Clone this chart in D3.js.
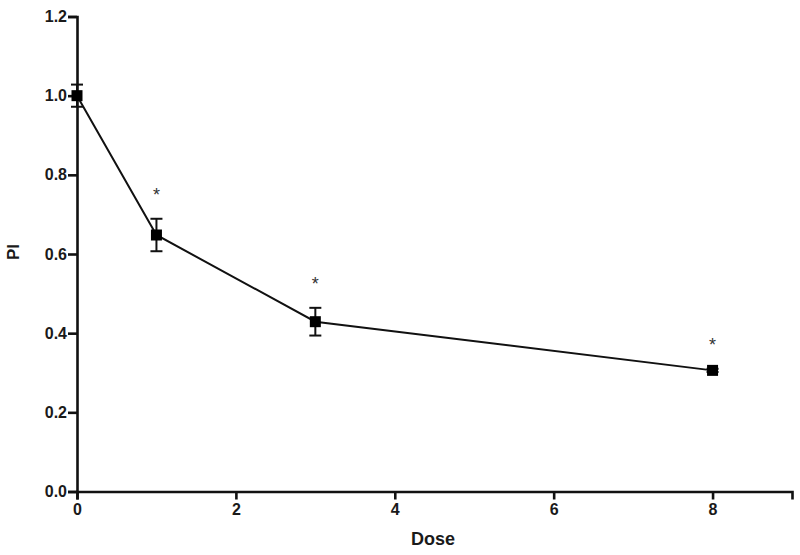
<!DOCTYPE html>
<html>
<head>
<meta charset="utf-8">
<script src="https://cdn.jsdelivr.net/npm/d3@7.9.0/dist/d3.min.js"></script>
<style>
  html, body { margin: 0; padding: 0; background: #fff; }
  svg { display: block; font-family: "Liberation Sans", Arial, sans-serif; }
</style>
</head>
<body>
<div id="chart"></div>
<script>
// dose / PI values
const doses = [0, 1, 3, 8];
const piMean = [1.0, 0.648, 0.429, 0.306];
const piErr = [0.028, 0.041, 0.035, 0.004];
const significant = [false, true, true, true];
const xTicks = [0, 2, 4, 6, 8];
const yTicks = [0, 0.2, 0.4, 0.6, 0.8, 1.0, 1.2];

const width = 800;
const height = 555;
const margin = { top: 16.5, right: 8, bottom: 63.5, left: 77 };

const points = doses.map((d, i) => ({
  dose: d, mean: piMean[i], err: piErr[i], sig: significant[i]
}));

const svg = d3.select('#chart')
  .append('svg')
  .attr('width', width)
  .attr('height', height);

const xScale = d3.scaleLinear()
  .domain([0, 9])
  .range([margin.left, width - margin.right]);
const yScale = d3.scaleLinear()
  .domain([0, 1.2])
  .range([height - margin.bottom, margin.top]);

// axes
const xAxis = svg.append('g')
  .attr('transform', `translate(0, ${yScale(0)})`)
  .call(d3.axisBottom(xScale).tickValues(xTicks).tickFormat(d3.format('d'))
    .tickSizeOuter(0).tickSize(8).tickPadding(4));

const yAxis = svg.append('g')
  .attr('transform', `translate(${xScale(0)}, 0)`)
  .call(d3.axisLeft(yScale).tickValues(yTicks).tickFormat(d3.format('.1f'))
    .tickSizeOuter(0).tickSize(9).tickPadding(1));

[xAxis, yAxis].forEach(ax => {
  ax.select('.domain').attr('stroke', '#111').attr('stroke-width', 2.6);
  ax.selectAll('.tick line').attr('stroke', '#111').attr('stroke-width', 2.6);
  ax.selectAll('.tick text')
    .attr('fill', '#1a1a1a')
    .style('font-size', '16px')
    .style('font-weight', 'bold');
});

// axis titles
svg.append('text')
  .attr('x', 433)
  .attr('y', 545)
  .attr('text-anchor', 'middle')
  .attr('fill', '#1a1a1a')
  .style('font-size', '18px')
  .style('font-weight', 'bold')
  .text('Dose');

svg.append('text')
  .attr('transform', `translate(19, ${252}) rotate(-90)`)
  .attr('text-anchor', 'middle')
  .attr('fill', '#1a1a1a')
  .style('font-size', '17px')
  .style('font-weight', 'bold')
  .text('PI');

// connecting line
const line = d3.line()
  .x(d => xScale(d.dose))
  .y(d => yScale(d.mean));

svg.append('path')
  .datum(points)
  .attr('fill', 'none')
  .attr('stroke', '#111')
  .attr('stroke-width', 2)
  .attr('d', line);

// error bars
const bars = svg.append('g').attr('class', 'errbars')
  .selectAll('g')
  .data(points)
  .join('g')
  .attr('stroke', '#111')
  .attr('stroke-width', 2);

bars.append('line')
  .attr('x1', d => xScale(d.dose))
  .attr('x2', d => xScale(d.dose))
  .attr('y1', d => yScale(d.mean + d.err))
  .attr('y2', d => yScale(d.mean - d.err));

bars.selectAll('line.cap')
  .data(d => [d.mean + d.err, d.mean - d.err].map(v => ({ dose: d.dose, v })))
  .join('line')
  .attr('class', 'cap')
  .attr('x1', d => xScale(d.dose) - 6)
  .attr('x2', d => xScale(d.dose) + 6)
  .attr('y1', d => yScale(d.v))
  .attr('y2', d => yScale(d.v));

// markers
const size = 11;
svg.append('g')
  .selectAll('rect')
  .data(points)
  .join('rect')
  .attr('x', d => xScale(d.dose) - size / 2)
  .attr('y', d => yScale(d.mean) - size / 2)
  .attr('width', size)
  .attr('height', size)
  .attr('fill', '#000');

// significance asterisks
svg.append('g')
  .selectAll('text')
  .data(points.filter(d => d.sig))
  .join('text')
  .attr('x', d => xScale(d.dose))
  .attr('y', d => yScale(d.mean + d.err) - 28 + 10)
  .attr('text-anchor', 'middle')
  .attr('fill', '#333')
  .style('font-size', '18px')
  .text('*');
</script>
</body>
</html>
